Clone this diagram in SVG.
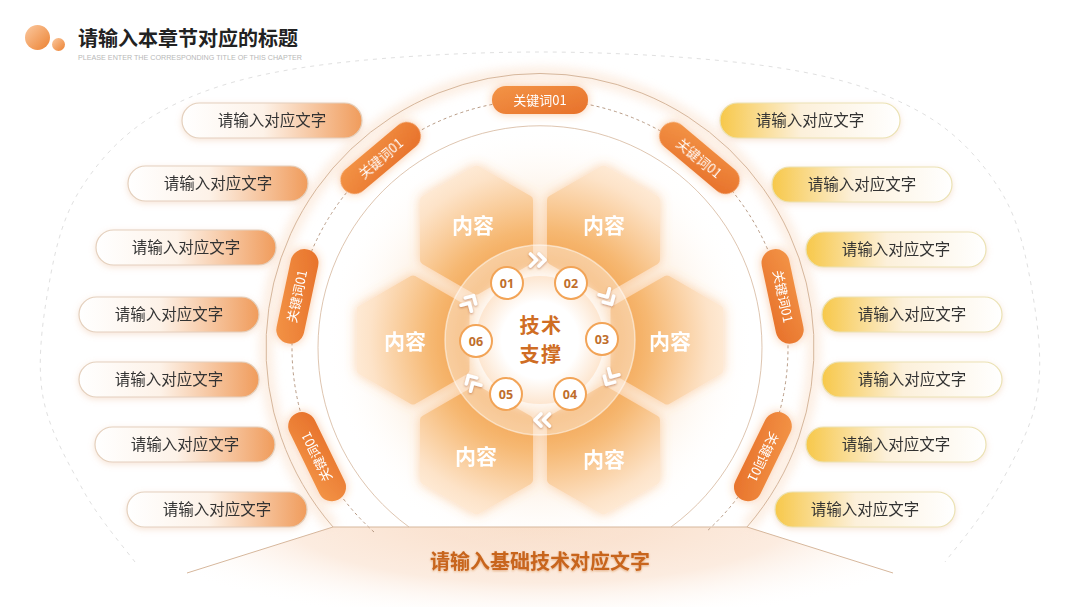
<svg xmlns="http://www.w3.org/2000/svg" width="1080" height="607" viewBox="0 0 1080 607">
<defs>
<linearGradient id="dotGrad" x1="0" y1="0" x2="1" y2="1"><stop offset="0" stop-color="#fbc9a0"/><stop offset="1" stop-color="#ec8232"/></linearGradient>
<linearGradient id="leftPill" x1="0" y1="0" x2="1" y2="0"><stop offset="0" stop-color="#ffffff"/><stop offset="0.45" stop-color="#fdf2e8"/><stop offset="1" stop-color="#f09c5c"/></linearGradient>
<linearGradient id="rightPill" x1="0" y1="0" x2="1" y2="0"><stop offset="0" stop-color="#f7c84a"/><stop offset="0.45" stop-color="#fcf0da"/><stop offset="1" stop-color="#ffffff"/></linearGradient>
<linearGradient id="kwGrad" x1="0" y1="0" x2="1" y2="1"><stop offset="0" stop-color="#f39447"/><stop offset="1" stop-color="#e7712a"/></linearGradient>
<radialGradient id="hexGrad" gradientUnits="userSpaceOnUse" cx="540" cy="340" r="200"><stop offset="0.3" stop-color="#f19a42"/><stop offset="0.55" stop-color="#f6b872"/><stop offset="0.85" stop-color="#fde3c8"/><stop offset="1" stop-color="#fff0e0"/></radialGradient>
<radialGradient id="glowGrad" gradientUnits="userSpaceOnUse" cx="540" cy="340" r="215"><stop offset="0.4" stop-color="#f8bd82" stop-opacity="0.6"/><stop offset="0.72" stop-color="#fbdcbc" stop-opacity="0.25"/><stop offset="1" stop-color="#ffffff" stop-opacity="0"/></radialGradient>
<radialGradient id="innerGrad" cx="0.5" cy="0.5" r="0.5"><stop offset="0.6" stop-color="#ffffff"/><stop offset="1" stop-color="#fde6d0"/></radialGradient>
<radialGradient id="plateGrad" gradientUnits="userSpaceOnUse" cx="540" cy="520" r="420" gradientTransform="translate(540 520) scale(1 0.25) translate(-540 -520)"><stop offset="0" stop-color="#f9dcc6"/><stop offset="0.6" stop-color="#fcece0"/><stop offset="1" stop-color="#ffffff" stop-opacity="0"/></radialGradient>
<filter id="pillShadow" x="-20%" y="-40%" width="140%" height="180%"><feDropShadow dx="0" dy="2" stdDeviation="3" flood-color="#e9b48a" flood-opacity="0.35"/></filter>
<filter id="kwGlow" x="-40%" y="-80%" width="180%" height="260%"><feDropShadow dx="0" dy="0" stdDeviation="5" flood-color="#f08a3c" flood-opacity="0.45"/></filter>
<filter id="chevShadow" x="-50%" y="-50%" width="200%" height="200%"><feDropShadow dx="0" dy="1" stdDeviation="1.2" flood-color="#a8582a" flood-opacity="0.6"/></filter>
<filter id="hexGlow" x="-30%" y="-30%" width="160%" height="160%"><feDropShadow dx="0" dy="0" stdDeviation="6" flood-color="#f6a050" flood-opacity="0.45"/></filter>
<filter id="txtShadow" x="-20%" y="-40%" width="140%" height="180%"><feDropShadow dx="0" dy="1" stdDeviation="1.2" flood-color="#c8621e" flood-opacity="0.45"/></filter>
<filter id="blur5"><feGaussianBlur stdDeviation="5"/></filter>
<path id="chev" d="M-9.5,-6 L-3.5,0 L-9.5,6 M-1,-6 L5,0 L-1,6"/>
</defs>
<style>
.cn{font-family:"Noto Sans CJK SC","Noto Sans",sans-serif;}
.item{font-size:15.5px;fill:#333333;text-anchor:middle;}
.kw rect{fill:url(#kwGrad);}
.kw text{font-size:13px;fill:#ffffff;text-anchor:middle;}
.hex polygon{fill:url(#hexGrad);stroke:url(#hexGrad);stroke-width:9;stroke-linejoin:round;}
.hex text{font-size:21px;font-weight:700;fill:#ffffff;text-anchor:middle;}
.num circle{fill:#ffffff;stroke:#f2a457;stroke-width:2;}
.num text{font-family:"Noto Sans","Liberation Sans",sans-serif;font-size:12.5px;font-weight:700;fill:#bf6e2c;text-anchor:middle;}
.chev use{fill:none;stroke:#ffffff;stroke-width:3.6;stroke-linecap:round;stroke-linejoin:round;}
.lp rect{fill:url(#leftPill);stroke:#e4d0bd;stroke-width:1.2;}
.rp rect{fill:url(#rightPill);stroke:#ebe2b4;stroke-width:1.2;}
.line{fill:none;stroke:#d6b79c;stroke-width:1;}
.dash{fill:none;stroke:#b79a84;stroke-width:1;stroke-dasharray:3 3;}
.core{font-size:20px;font-weight:700;fill:#cf6d24;text-anchor:middle;letter-spacing:1.5px;}
</style>
<rect width="1080" height="607" fill="#ffffff"/>

<g id="background">
<path d="M135,562 C126,550 98,517.5 83,490 C68,462.5 49,430 43,397 C37,364 42,324.5 48,290 C54,255.5 61,220 80,190 C98.7,160.3 123.3,132.3 160,112 C196.7,91.7 236.7,78 300,68 C363.3,58 460,52 540,52 C620,52 716.7,58 780,68 C843.3,78 883.3,91.7 920,112 C956.7,132.3 981.3,160.3 1000,190 C1019,220 1026,255.5 1032,290 C1038,324.5 1043,364 1037,397 C1031,430 1012,462.5 997,490 C982,517.5 954,550 945,562" fill="none" stroke="#e0e0e0" stroke-width="1" stroke-dasharray="4 5"/>
<path d="M40,607 L187,573 L333,527 L747,527 L893,573 L1040,607 Z" fill="url(#plateGrad)"/>
<path d="M333,527 A274,274 0 1 1 747,527" fill="none" stroke="#fbe4d2" stroke-width="14" opacity="0.6" filter="url(#blur5)"/>
<circle cx="540" cy="345" r="215" fill="url(#glowGrad)"/>
</g>

<g id="connectors">
<path class="line" d="M333,527 A274,274 0 1 1 747,527"/>
<path class="dash" d="M374,532 A248,248 0 1 1 706,532"/>
<path class="line" d="M409,527 A222,222 0 1 1 671,527" opacity="0.8"/>
<path class="line" d="M187,573 L333,527 L747,527 L893,573"/>
</g>

<g id="hexagons" filter="url(#hexGlow)">
<g id="hex-top-left" class="hex cn"><polygon points="476.5,170 528.5,200 528.5,260 476.5,290 424.5,260 424.5,200"/><text x="473" y="233">内容</text></g>
<g id="hex-top-right" class="hex cn"><polygon points="603.5,170 655.5,200 655.5,260 603.5,290 551.5,260 551.5,200"/><text x="604" y="233">内容</text></g>
<g id="hex-left" class="hex cn"><polygon points="413,280 465,310 465,370 413,400 361,370 361,310"/><text x="405" y="349">内容</text></g>
<g id="hex-right" class="hex cn"><polygon points="667,280 719,310 719,370 667,400 615,370 615,310"/><text x="670" y="349">内容</text></g>
<g id="hex-bottom-left" class="hex cn"><polygon points="476.5,390 528.5,420 528.5,480 476.5,510 424.5,480 424.5,420"/><text x="476" y="464">内容</text></g>
<g id="hex-bottom-right" class="hex cn"><polygon points="603.5,390 655.5,420 655.5,480 603.5,510 551.5,480 551.5,420"/><text x="604" y="467">内容</text></g>
</g>

<g id="center">
<circle cx="540" cy="340" r="95" fill="#ffffff" fill-opacity="0.38" stroke="#ffffff" stroke-opacity="0.5" stroke-width="1.5"/>
<circle cx="540" cy="340" r="70" fill="#ffffff" opacity="0.7" filter="url(#blur5)"/>
<circle cx="540" cy="340" r="64" fill="url(#innerGrad)"/>
<text class="cn core" x="541" y="333">技术</text>
<text class="cn core" x="541" y="362">支撑</text>
</g>

<g id="steps">
<g id="step-01" class="num"><circle cx="507" cy="283" r="16"/><text x="507" y="287.5">01</text></g>
<g id="step-02" class="num"><circle cx="571" cy="283" r="16"/><text x="571" y="287.5">02</text></g>
<g id="step-03" class="num"><circle cx="602" cy="339" r="16"/><text x="602" y="343.5">03</text></g>
<g id="step-04" class="num"><circle cx="570" cy="394" r="16"/><text x="570" y="398.5">04</text></g>
<g id="step-05" class="num"><circle cx="506" cy="394" r="16"/><text x="506" y="398.5">05</text></g>
<g id="step-06" class="num"><circle cx="476" cy="341" r="16"/><text x="476" y="345.5">06</text></g>
</g>

<g id="chevrons" class="chev" filter="url(#chevShadow)">
<use href="#chev" transform="translate(540 260) rotate(0)"/>
<use href="#chev" transform="translate(609 300) rotate(60)"/>
<use href="#chev" transform="translate(609 380) rotate(120)"/>
<use href="#chev" transform="translate(540 420) rotate(180)"/>
<use href="#chev" transform="translate(471 380) rotate(240)"/>
<use href="#chev" transform="translate(471 300) rotate(300)"/>
</g>

<g id="keywords" filter="url(#kwGlow)">
<g id="kw-top" class="kw cn" transform="translate(540 100)"><rect x="-48" y="-14" width="96" height="28" rx="14"/><text y="4.5">关键词01</text></g>
<g id="kw-upper-left" class="kw cn" transform="translate(380.6 158) rotate(-40)"><rect x="-48" y="-14" width="96" height="28" rx="14"/><text y="4.5">关键词01</text></g>
<g id="kw-left" class="kw cn" transform="translate(297.4 296.4) rotate(-78)"><rect x="-48" y="-14" width="96" height="28" rx="14"/><text y="4.5">关键词01</text></g>
<g id="kw-lower-left" class="kw cn" transform="translate(317.1 456.7) rotate(-116)"><rect x="-48" y="-14" width="96" height="28" rx="14"/><text y="4.5">关键词01</text></g>
<g id="kw-upper-right" class="kw cn" transform="translate(699.4 158) rotate(40)"><rect x="-48" y="-14" width="96" height="28" rx="14"/><text y="4.5">关键词01</text></g>
<g id="kw-right" class="kw cn" transform="translate(782.6 296.4) rotate(78)"><rect x="-48" y="-14" width="96" height="28" rx="14"/><text y="4.5">关键词01</text></g>
<g id="kw-lower-right" class="kw cn" transform="translate(762.9 456.7) rotate(116)"><rect x="-48" y="-14" width="96" height="28" rx="14"/><text y="4.5">关键词01</text></g>
</g>

<g id="left-items" filter="url(#pillShadow)">
<g id="left-1" class="lp"><rect x="182" y="103" width="180" height="35" rx="17.5"/><text class="cn item" x="272" y="126">请输入对应文字</text></g>
<g id="left-2" class="lp"><rect x="128" y="166" width="180" height="35" rx="17.5"/><text class="cn item" x="218" y="189">请输入对应文字</text></g>
<g id="left-3" class="lp"><rect x="96" y="230" width="180" height="35" rx="17.5"/><text class="cn item" x="186" y="253">请输入对应文字</text></g>
<g id="left-4" class="lp"><rect x="79" y="297" width="180" height="35" rx="17.5"/><text class="cn item" x="169" y="320">请输入对应文字</text></g>
<g id="left-5" class="lp"><rect x="79" y="362" width="180" height="35" rx="17.5"/><text class="cn item" x="169" y="385">请输入对应文字</text></g>
<g id="left-6" class="lp"><rect x="95" y="427" width="180" height="35" rx="17.5"/><text class="cn item" x="185" y="450">请输入对应文字</text></g>
<g id="left-7" class="lp"><rect x="127" y="492" width="180" height="35" rx="17.5"/><text class="cn item" x="217" y="515">请输入对应文字</text></g>
</g>

<g id="right-items" filter="url(#pillShadow)">
<g id="right-1" class="rp"><rect x="720" y="103" width="180" height="35" rx="17.5"/><text class="cn item" x="810" y="126">请输入对应文字</text></g>
<g id="right-2" class="rp"><rect x="772" y="167" width="180" height="35" rx="17.5"/><text class="cn item" x="862" y="190">请输入对应文字</text></g>
<g id="right-3" class="rp"><rect x="806" y="232" width="180" height="35" rx="17.5"/><text class="cn item" x="896" y="255">请输入对应文字</text></g>
<g id="right-4" class="rp"><rect x="822" y="297" width="180" height="35" rx="17.5"/><text class="cn item" x="912" y="320">请输入对应文字</text></g>
<g id="right-5" class="rp"><rect x="822" y="362" width="180" height="35" rx="17.5"/><text class="cn item" x="912" y="385">请输入对应文字</text></g>
<g id="right-6" class="rp"><rect x="806" y="427" width="180" height="35" rx="17.5"/><text class="cn item" x="896" y="450">请输入对应文字</text></g>
<g id="right-7" class="rp"><rect x="775" y="492" width="180" height="35" rx="17.5"/><text class="cn item" x="865" y="515">请输入对应文字</text></g>
</g>

<g id="bottom-label">
<text class="cn" x="540" y="569" font-size="20" font-weight="700" fill="#c8651f" text-anchor="middle" filter="url(#txtShadow)">请输入基础技术对应文字</text>
</g>

<g id="header">
<circle cx="37.5" cy="37.5" r="12.5" fill="url(#dotGrad)"/>
<circle cx="58.5" cy="44.5" r="6.5" fill="url(#dotGrad)"/>
<text class="cn" x="78" y="46" font-size="20" font-weight="700" fill="#222222">请输入本章节对应的标题</text>
<text x="78" y="60" font-family="Liberation Sans, Arial, sans-serif" font-size="6.8" fill="#b8b8b8" textLength="224" lengthAdjust="spacingAndGlyphs">PLEASE ENTER THE CORRESPONDING TITLE OF THIS CHAPTER</text>
</g>
</svg>
